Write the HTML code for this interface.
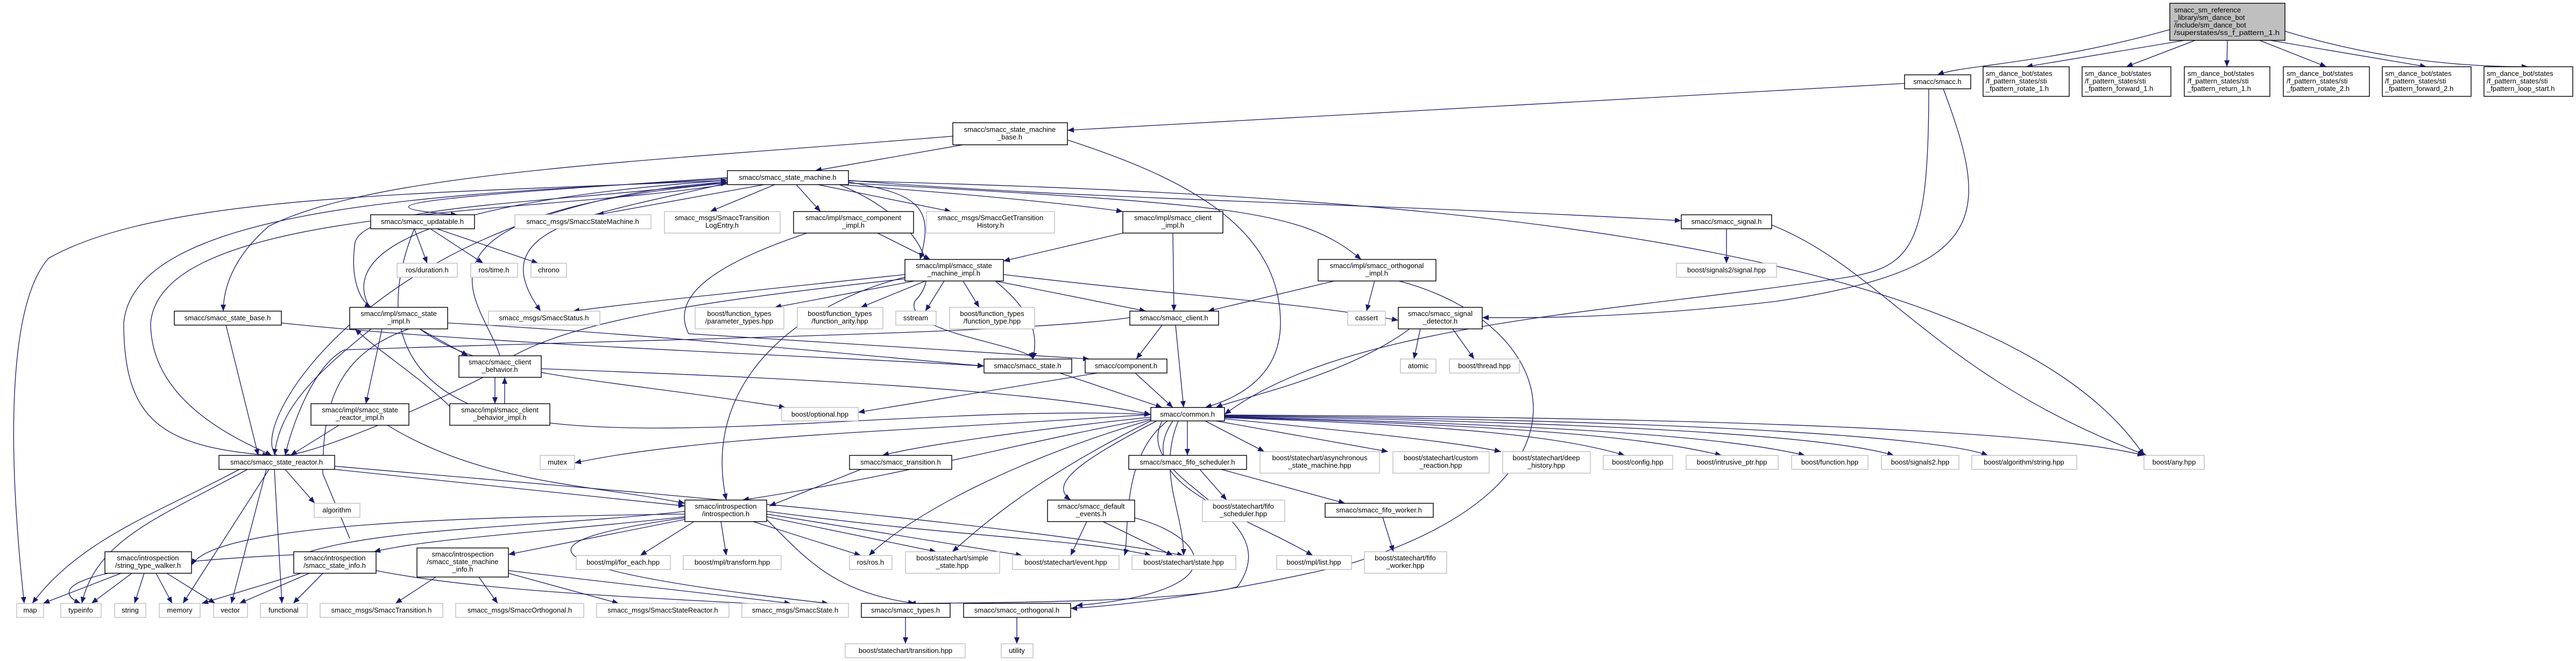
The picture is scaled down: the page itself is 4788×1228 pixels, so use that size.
<!DOCTYPE html>
<html><head><meta charset="utf-8"><style>
html,body{margin:0;padding:0;background:#fff;width:4788px;height:1228px;overflow:hidden}
svg{display:block}
text{font-family:"Liberation Sans",sans-serif;font-size:13px;fill:#000}
.e{fill:none;stroke:#191970;stroke-width:1.3}
.n{fill:#fff;stroke:#000;stroke-width:1.4}
.g{fill:#fff;stroke:#bfbfbf;stroke-width:1.4}
</style></head><body>
<svg width="4788" height="1228" viewBox="0 0 4788 1228" xmlns="http://www.w3.org/2000/svg">
<defs><marker id="a" markerUnits="userSpaceOnUse" markerWidth="12" markerHeight="10" refX="12" refY="5" orient="auto"><path d="M0,0 L12,5 L0,10 z" fill="#191970"/></marker></defs>
<g class="e" marker-end="url(#a)">
<!-- top -->
<path d="M4033,55 C3800,120 3650,120 3601,139"/>
<path d="M4060,75 L3766,124"/><path d="M4080,75 L3952,124"/><path d="M4140,75 L4139,124"/>
<path d="M4200,75 L4324,124"/><path d="M4220,75 L4510,124"/><path d="M4247,58 C4450,120 4620,124 4699,124"/>
<!-- smacc.h -->
<path d="M3540,155 L1984,242"/>
<path d="M3612,165 C3700,400 3700,500 3300,560 C3000,595 2800,590 2755,590"/>
<path d="M3585,165 C3585,480 3550,500 3400,520 C3000,580 2500,600 2276,770"/>
<!-- base -->
<path d="M1790,269 L1515,317"/>
<path d="M1984,260 C2200,330 2380,420 2380,600 C2380,700 2300,740 2240,757"/>
<path d="M1771,253 C1200,300 700,320 500,420 C430,480 415,540 415,578"/>
<!-- sm -->
<path d="M1420,343 L1110,399"/><path d="M1440,343 L1320,393"/><path d="M1480,343 L1525,393"/>
<path d="M1520,343 L1768,393"/><path d="M1560,343 C1800,360 2000,380 2087,393"/>
<path d="M1577,335 C2000,370 2600,380 3125,410"/>
<path d="M1577,340 C2300,380 2420,390 2530,482"/>
<path d="M1577,338 C1700,360 1740,380 1710,482"/>
<path d="M1352,340 C1100,400 890,420 1005,578"/>
<path d="M1352,330 C900,360 600,380 850,399"/>
<path d="M1577,336 C2500,360 3700,420 3985,846"/>
<path d="M1352,335 C800,360 300,360 90,480 C20,560 10,800 45,1121"/>
<path d="M1352,338 C1000,380 680,380 660,450 C650,520 670,560 690,571"/>
<path d="M1560,343 C1700,400 1760,500 1700,560 C1680,620 1910,640 1920,667"/>
<path d="M1352,342 C1000,400 300,380 280,600 C280,750 450,820 505,846"/>
<path d="M1352,332 C900,360 250,370 230,600 C230,780 300,830 500,846"/>
<!-- back edges to sm -->
<path d="M760,611 C620,660 600,760 600,880 L650,1000 M720,611 C600,500 700,380 1352,335"/>
<path d="M515,846 C450,800 700,380 1352,338"/>
<path d="M929,661 C900,560 700,400 1352,340"/>
<!-- upd -->
<path d="M770,425 L794,489"/><path d="M800,425 L898,489"/><path d="M812,425 L1000,489"/>
<path d="M770,425 C700,600 760,700 870,750 C1100,850 1700,750 2139,770"/>
<!-- compimpl -->
<path d="M1631,433 L1729,482"/>
<path d="M1500,433 C1300,500 1250,560 1280,620 L2025,667"/>
<!-- climpl -->
<path d="M2087,433 L1865,485"/><path d="M2180,433 L2182,578"/>
<!-- orthimpl -->
<path d="M2480,522 L2245,578"/><path d="M2555,522 L2540,578"/>
<path d="M2600,522 C2900,600 3000,900 2500,1050 C2200,1120 2000,1130 1990,1130"/>
<!-- signal -->
<path d="M3209,425 L3209,489"/>
<path d="M3293,418 C3500,500 3600,700 3990,846"/>
<!-- smimpl -->
<path d="M1700,522 L1440,571"/><path d="M1720,522 L1600,571"/><path d="M1755,522 L1720,578"/>
<path d="M1790,522 L1820,571"/><path d="M1850,522 L2130,578"/>
<path d="M1865,510 C2200,550 2400,560 2599,595"/>
<path d="M1850,522 C1920,580 1930,620 1920,667"/>
<path d="M1682,510 C1400,540 1200,560 1065,578"/>
<path d="M1682,515 C1500,560 1300,700 1350,929"/>
<path d="M1682,518 C1300,560 1000,600 900,700 C700,800 550,850 525,846"/>
<!-- sigdet -->
<path d="M2640,611 L2628,667"/><path d="M2700,611 L2740,667"/><path d="M2620,611 C2500,700 2300,740 2260,757"/>
<!-- client -->
<path d="M2160,604 L2112,667"/><path d="M2185,604 L2200,757"/>
<path d="M2100,590 C1900,620 1200,630 640,650 C580,680 540,800 530,846"/>
<!-- comp / state -->
<path d="M2110,693 L2180,757"/><path d="M2040,693 L1595,766"/><path d="M1970,693 L2160,757"/>
<!-- sbase -->
<path d="M523,600 C900,640 1500,660 1829,680"/><path d="M420,604 L480,846"/>
<!-- cb -->
<path d="M920,701 L920,750"/><path d="M938,750 L938,701"/>
<path d="M1006,685 C1400,700 1900,720 2139,770"/>
<!-- stimpl -->
<path d="M780,611 L870,661"/><path d="M710,611 L680,750"/>
<path d="M832,600 C1200,620 1600,660 1829,680"/>
<path d="M780,611 C900,700 1100,700 1460,757"/>
<path d="M690,611 C580,700 520,760 510,846"/>
<!-- srimpl -->
<path d="M630,790 L540,846"/><path d="M720,790 C900,900 1100,900 1273,935"/>
<!-- cbimpl -->
<path d="M836,755 C780,700 700,650 660,611"/>
<!-- reactor -->
<path d="M530,872 L585,935"/>
<path d="M445,872 C300,950 150,1000 60,1121"/>
<path d="M500,872 L340,1121"/><path d="M495,872 L430,1121"/><path d="M510,872 L524,1121"/>
<path d="M622,872 L1273,940"/>
<path d="M622,866 C1000,900 1800,960 2200,1032"/>
<path d="M460,872 C300,960 180,1000 152,1121"/>
<!-- common out -->
<path d="M2139,775 C1900,800 1700,830 1640,846"/>
<path d="M2207,782 L2207,846"/><path d="M2240,782 L2350,839"/><path d="M2260,782 L2580,839"/>
<path d="M2276,778 C2500,800 2700,820 2790,839"/><path d="M2276,776 C2700,790 2900,810 3020,846"/>
<path d="M2276,775 C2800,790 3050,810 3200,846"/><path d="M2276,774 C2900,790 3200,810 3355,846"/>
<path d="M2276,773 C3000,785 3400,810 3520,846"/><path d="M2276,772 C3100,780 3600,810 3695,846"/>
<path d="M2276,771 C3200,775 3800,800 3985,846"/>
<path d="M2139,770 C1700,800 1300,810 1068,860"/>
<path d="M2139,778 C1900,820 1700,880 1380,929"/>
<path d="M2150,782 C2000,860 1950,900 1990,929"/>
<path d="M2139,780 C1900,850 1700,950 1615,1032"/>
<path d="M2139,782 C1900,900 1800,1000 1770,1025"/>
<path d="M2170,782 C2080,850 2100,1000 2090,1032"/>
<path d="M2190,782 C2150,880 2200,950 2200,1032"/>
<path d="M2180,782 C2100,900 2300,950 2440,1032"/>
<path d="M2160,782 C2100,900 2400,950 2300,1090 C2200,1120 1800,1120 1690,1121"/>
<!-- fifo -->
<path d="M2230,872 L2280,929"/><path d="M2270,872 L2500,935"/><path d="M2570,961 L2590,1025"/>
<!-- trans -->
<path d="M1600,872 L1430,940"/>
<!-- defev -->
<path d="M2020,969 L1990,1032"/><path d="M2050,969 L2180,1032"/>
<path d="M2109,962 C2250,1000 2300,1100 2000,1125"/>
<!-- intro -->
<path d="M1273,955 C900,960 400,970 356,1050"/>
<path d="M1273,960 C1000,990 800,1000 695,1025"/>
<path d="M1273,965 L945,1030"/>
<path d="M1290,969 L1190,1032"/><path d="M1340,969 L1350,1032"/><path d="M1400,969 L1600,1032"/>
<path d="M1425,960 L1740,1025"/><path d="M1425,955 L1900,1032"/>
<path d="M1425,950 C1800,1000 2000,1000 2140,1032"/>
<path d="M1273,950 C1000,980 700,980 560,1030 C100,1050 100,1100 150,1121"/>
<path d="M1425,965 C1500,1040 1550,1100 1700,1121"/>
<path d="M1273,962 C1000,1000 900,1050 1540,1121"/>
<!-- stw -->
<path d="M225,1065 L80,1121"/><path d="M245,1065 L170,1121"/><path d="M268,1065 L250,1121"/>
<path d="M290,1065 L320,1121"/><path d="M310,1065 L400,1121"/>
<!-- ssi -->
<path d="M560,1065 L375,1121"/><path d="M575,1065 L445,1121"/><path d="M600,1065 L545,1121"/>
<path d="M699,1060 C900,1100 1200,1110 1560,1130"/>
<!-- smi -->
<path d="M810,1072 L735,1121"/><path d="M890,1072 L925,1121"/><path d="M945,1065 L1150,1121"/>
<path d="M945,1060 L1470,1121"/>
<!-- types/orth -->
<path d="M1683,1147 L1683,1196"/><path d="M1890,1147 L1890,1196"/>
</g>
<!-- nodes -->
<g>
<rect x="4033" y="6" width="214" height="69" fill="#bfbfbf" stroke="#000" stroke-width="1.4"/>
<text x="4041" y="23">smacc_sm_reference</text><text x="4041" y="37">_library/sm_dance_bot</text><text x="4041" y="51">/include/sm_dance_bot</text><text x="4041" y="65" textLength="196" lengthAdjust="spacingAndGlyphs">/superstates/ss_f_pattern_1.h</text>
</g>
<g text-anchor="start">
<rect class="n" x="3686" y="124" width="160" height="55"/><text x="3691" y="141">sm_dance_bot/states</text><text x="3691" y="155">/f_pattern_states/sti</text><text x="3691" y="169">_fpattern_rotate_1.h</text>
<rect class="n" x="3870" y="124" width="165" height="55"/><text x="3875" y="141">sm_dance_bot/states</text><text x="3875" y="155">/f_pattern_states/sti</text><text x="3875" y="169">_fpattern_forward_1.h</text>
<rect class="n" x="4060" y="124" width="159" height="55"/><text x="4066" y="141">sm_dance_bot/states</text><text x="4066" y="155">/f_pattern_states/sti</text><text x="4066" y="169">_fpattern_return_1.h</text>
<rect class="n" x="4244" y="124" width="160" height="55"/><text x="4250" y="141">sm_dance_bot/states</text><text x="4250" y="155">/f_pattern_states/sti</text><text x="4250" y="169">_fpattern_rotate_2.h</text>
<rect class="n" x="4428" y="124" width="165" height="55"/><text x="4433" y="141">sm_dance_bot/states</text><text x="4433" y="155">/f_pattern_states/sti</text><text x="4433" y="169">_fpattern_forward_2.h</text>
<rect class="n" x="4617" y="124" width="165" height="55"/><text x="4622" y="141">sm_dance_bot/states</text><text x="4622" y="155">/f_pattern_states/sti</text><text x="4622" y="169">_fpattern_loop_start.h</text>
</g>
<g text-anchor="middle">
<!-- single-line non-gray -->
<rect class="n" x="3540" y="139" width="123" height="26"/><text x="3601" y="156">smacc/smacc.h</text>
<rect class="n" x="1352" y="317" width="225" height="26"/><text x="1464" y="334">smacc/smacc_state_machine.h</text>
<rect class="n" x="689" y="399" width="193" height="26"/><text x="785" y="416">smacc/smacc_updatable.h</text>
<rect class="n" x="3125" y="399" width="168" height="26"/><text x="3209" y="416">smacc/smacc_signal.h</text>
<rect class="n" x="324" y="578" width="199" height="26"/><text x="423" y="595">smacc/smacc_state_base.h</text>
<rect class="n" x="2100" y="578" width="165" height="26"/><text x="2182" y="595">smacc/smacc_client.h</text>
<rect class="n" x="1829" y="667" width="163" height="26"/><text x="1910" y="684">smacc/smacc_state.h</text>
<rect class="n" x="2017" y="667" width="152" height="26"/><text x="2093" y="684">smacc/component.h</text>
<rect class="n" x="2139" y="757" width="137" height="25"/><text x="2207" y="774">smacc/common.h</text>
<rect class="n" x="407" y="846" width="215" height="26"/><text x="514" y="863">smacc/smacc_state_reactor.h</text>
<rect class="n" x="1579" y="846" width="190" height="26"/><text x="1674" y="863">smacc/smacc_transition.h</text>
<rect class="n" x="2098" y="846" width="219" height="26"/><text x="2207" y="863">smacc/smacc_fifo_scheduler.h</text>
<rect class="n" x="2463" y="935" width="201" height="26"/><text x="2563" y="952">smacc/smacc_fifo_worker.h</text>
<rect class="n" x="1601" y="1121" width="165" height="26"/><text x="1683" y="1138">smacc/smacc_types.h</text>
<rect class="n" x="1791" y="1121" width="199" height="26"/><text x="1890" y="1138">smacc/smacc_orthogonal.h</text>
<!-- two-line non-gray -->
<rect class="n" x="1771" y="228" width="213" height="41"/><text x="1877" y="245">smacc/smacc_state_machine</text><text x="1877" y="259">_base.h</text>
<rect class="n" x="1475" y="393" width="223" height="40"/><text x="1586" y="409">smacc/impl/smacc_component</text><text x="1586" y="423">_impl.h</text>
<rect class="n" x="2087" y="393" width="186" height="40"/><text x="2180" y="409">smacc/impl/smacc_client</text><text x="2180" y="423">_impl.h</text>
<rect class="n" x="1682" y="482" width="183" height="40"/><text x="1773" y="498">smacc/impl/smacc_state</text><text x="1773" y="512">_machine_impl.h</text>
<rect class="n" x="2450" y="482" width="219" height="40"/><text x="2559" y="498">smacc/impl/smacc_orthogonal</text><text x="2559" y="512">_impl.h</text>
<rect class="n" x="650" y="571" width="182" height="40"/><text x="741" y="587">smacc/impl/smacc_state</text><text x="741" y="601">_impl.h</text>
<rect class="n" x="2599" y="571" width="156" height="40"/><text x="2677" y="587">smacc/smacc_signal</text><text x="2677" y="601">_detector.h</text>
<rect class="n" x="853" y="661" width="153" height="40"/><text x="929" y="677">smacc/smacc_client</text><text x="929" y="691">_behavior.h</text>
<rect class="n" x="578" y="750" width="182" height="40"/><text x="669" y="766">smacc/impl/smacc_state</text><text x="669" y="780">_reactor_impl.h</text>
<rect class="n" x="836" y="750" width="186" height="40"/><text x="929" y="766">smacc/impl/smacc_client</text><text x="929" y="780">_behavior_impl.h</text>
<rect class="n" x="1273" y="929" width="152" height="40"/><text x="1349" y="945">smacc/introspection</text><text x="1349" y="959">/introspection.h</text>
<rect class="n" x="1947" y="929" width="162" height="40"/><text x="2028" y="945">smacc/smacc_default</text><text x="2028" y="959">_events.h</text>
<rect class="n" x="195" y="1025" width="161" height="40"/><text x="275" y="1041">smacc/introspection</text><text x="275" y="1055">/string_type_walker.h</text>
<rect class="n" x="546" y="1025" width="153" height="40"/><text x="622" y="1041">smacc/introspection</text><text x="622" y="1055">/smacc_state_info.h</text>
<rect class="n" x="775" y="1018" width="170" height="54"/><text x="860" y="1034">smacc/introspection</text><text x="860" y="1048">/smacc_state_machine</text><text x="860" y="1062">_info.h</text>
<!-- gray single -->
<rect class="g" x="957" y="399" width="253" height="26"/><text x="1083" y="416">smacc_msgs/SmaccStateMachine.h</text>
<rect class="g" x="738" y="489" width="112" height="26"/><text x="794" y="506">ros/duration.h</text>
<rect class="g" x="875" y="489" width="87" height="26"/><text x="918" y="506">ros/time.h</text>
<rect class="g" x="987" y="489" width="66" height="26"/><text x="1020" y="506">chrono</text>
<rect class="g" x="3116" y="489" width="186" height="26"/><text x="3209" y="506">boost/signals2/signal.hpp</text>
<rect class="g" x="908" y="578" width="207" height="26"/><text x="1011" y="595">smacc_msgs/SmaccStatus.h</text>
<rect class="g" x="1665" y="578" width="75" height="26"/><text x="1702" y="595">sstream</text>
<rect class="g" x="2505" y="578" width="70" height="26"/><text x="2540" y="595">cassert</text>
<rect class="g" x="2603" y="667" width="66" height="26"/><text x="2636" y="684">atomic</text>
<rect class="g" x="2694" y="667" width="130" height="26"/><text x="2759" y="684">boost/thread.hpp</text>
<rect class="g" x="1453" y="757" width="142" height="25"/><text x="1524" y="774">boost/optional.hpp</text>
<rect class="g" x="1004" y="846" width="64" height="26"/><text x="1036" y="863">mutex</text>
<rect class="g" x="2980" y="846" width="129" height="26"/><text x="3044" y="863">boost/config.hpp</text>
<rect class="g" x="3134" y="846" width="171" height="26"/><text x="3219" y="863">boost/intrusive_ptr.hpp</text>
<rect class="g" x="3330" y="846" width="142" height="26"/><text x="3401" y="863">boost/function.hpp</text>
<rect class="g" x="3497" y="846" width="144" height="26"/><text x="3569" y="863">boost/signals2.hpp</text>
<rect class="g" x="3665" y="846" width="195" height="26"/><text x="3762" y="863">boost/algorithm/string.hpp</text>
<rect class="g" x="3985" y="846" width="112" height="26"/><text x="4041" y="863">boost/any.hpp</text>
<rect class="g" x="584" y="935" width="85" height="26"/><text x="626" y="952">algorithm</text>
<rect class="g" x="1071" y="1032" width="175" height="26"/><text x="1158" y="1049">boost/mpl/for_each.hpp</text>
<rect class="g" x="1270" y="1032" width="182" height="26"/><text x="1361" y="1049">boost/mpl/transform.hpp</text>
<rect class="g" x="1579" y="1032" width="79" height="26"/><text x="1618" y="1049">ros/ros.h</text>
<rect class="g" x="1882" y="1032" width="198" height="26"/><text x="1981" y="1049">boost/statechart/event.hpp</text>
<rect class="g" x="2104" y="1032" width="193" height="26"/><text x="2200" y="1049">boost/statechart/state.hpp</text>
<rect class="g" x="2373" y="1032" width="139" height="26"/><text x="2442" y="1049">boost/mpl/list.hpp</text>
<rect class="g" x="31" y="1121" width="50" height="26"/><text x="56" y="1138">map</text>
<rect class="g" x="113" y="1121" width="75" height="26"/><text x="150" y="1138">typeinfo</text>
<rect class="g" x="213" y="1121" width="58" height="26"/><text x="242" y="1138">string</text>
<rect class="g" x="296" y="1121" width="76" height="26"/><text x="334" y="1138">memory</text>
<rect class="g" x="397" y="1121" width="63" height="26"/><text x="428" y="1138">vector</text>
<rect class="g" x="484" y="1121" width="87" height="26"/><text x="527" y="1138">functional</text>
<rect class="g" x="595" y="1121" width="228" height="26"/><text x="709" y="1138">smacc_msgs/SmaccTransition.h</text>
<rect class="g" x="847" y="1121" width="238" height="26"/><text x="966" y="1138">smacc_msgs/SmaccOrthogonal.h</text>
<rect class="g" x="1109" y="1121" width="246" height="26"/><text x="1232" y="1138">smacc_msgs/SmaccStateReactor.h</text>
<rect class="g" x="1379" y="1121" width="198" height="26"/><text x="1478" y="1138">smacc_msgs/SmaccState.h</text>
<rect class="g" x="1571" y="1196" width="223" height="26"/><text x="1683" y="1213">boost/statechart/transition.hpp</text>
<rect class="g" x="1861" y="1196" width="59" height="26"/><text x="1890" y="1213">utility</text>
<!-- gray two-line -->
<rect class="g" x="1235" y="393" width="215" height="40"/><text x="1342" y="409">smacc_msgs/SmaccTransition</text><text x="1342" y="423">LogEntry.h</text>
<rect class="g" x="1722" y="393" width="238" height="40"/><text x="1841" y="409">smacc_msgs/SmaccGetTransition</text><text x="1841" y="423">History.h</text>
<rect class="g" x="1292" y="571" width="165" height="40"/><text x="1374" y="587">boost/function_types</text><text x="1374" y="601">/parameter_types.hpp</text>
<rect class="g" x="1482" y="571" width="159" height="40"/><text x="1561" y="587">boost/function_types</text><text x="1561" y="601">/function_arity.hpp</text>
<rect class="g" x="1765" y="571" width="158" height="40"/><text x="1844" y="587">boost/function_types</text><text x="1844" y="601">/function_type.hpp</text>
<rect class="g" x="2342" y="839" width="222" height="40"/><text x="2453" y="855">boost/statechart/asynchronous</text><text x="2453" y="869">_state_machine.hpp</text>
<rect class="g" x="2589" y="839" width="179" height="40"/><text x="2678" y="855">boost/statechart/custom</text><text x="2678" y="869">_reaction.hpp</text>
<rect class="g" x="2793" y="839" width="163" height="40"/><text x="2874" y="855">boost/statechart/deep</text><text x="2874" y="869">_history.hpp</text>
<rect class="g" x="2235" y="929" width="153" height="40"/><text x="2311" y="945">boost/statechart/fifo</text><text x="2311" y="959">_scheduler.hpp</text>
<rect class="g" x="1683" y="1025" width="175" height="40"/><text x="1770" y="1041">boost/statechart/simple</text><text x="1770" y="1055">_state.hpp</text>
<rect class="g" x="2536" y="1025" width="153" height="40"/><text x="2612" y="1041">boost/statechart/fifo</text><text x="2612" y="1055">_worker.hpp</text>
</g>
</svg>
</body></html>
